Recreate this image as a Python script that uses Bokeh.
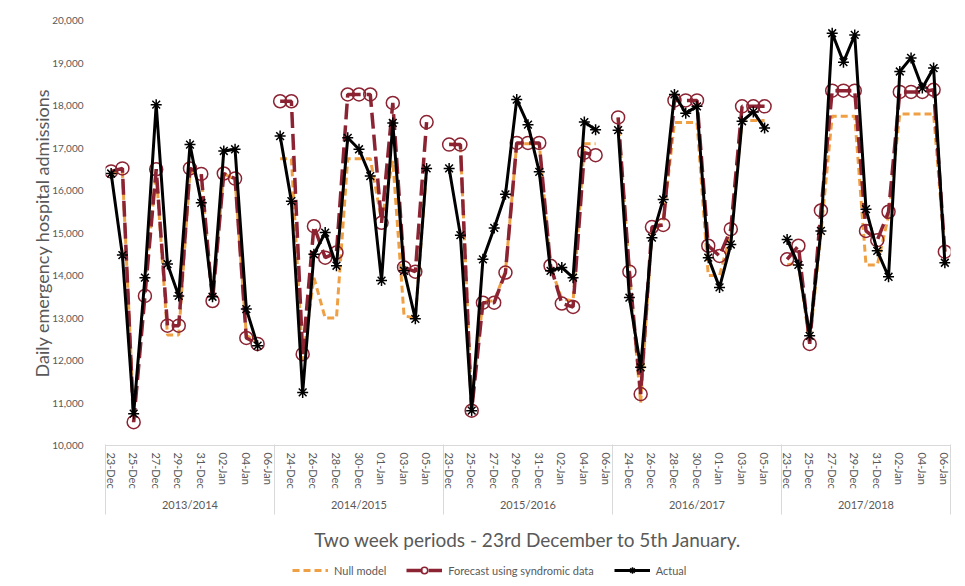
import numpy as np
from bokeh.plotting import figure
from bokeh.layouts import column
from bokeh.models import (Range1d, LinearAxis, FixedTicker, Legend, LegendItem,
                          NumeralTickFormatter)
from bokeh.embed import file_html
from bokeh.resources import INLINE

# ---------------- data ----------------
seasons = ["2013/2014", "2014/2015", "2015/2016", "2016/2017", "2017/2018"]
days = ["23-Dec", "24-Dec", "25-Dec", "26-Dec", "27-Dec", "28-Dec", "29-Dec", "30-Dec",
        "31-Dec", "01-Jan", "02-Jan", "03-Jan", "04-Jan", "05-Jan", "06-Jan"]

null_model = [
    16400, 16450, 10750, 13700, 16450, 12600, 12600, 16450, 16350, 13450, 16400, 16250, 12600, 12400, None,
    16750, 16750, 12000, 13950, 13000, 13000, 16750, 16750, 16750, 15300, 16700, 13050, 13000, 16500, None,
    17100, 17050, 11000, 13400, 13400, 14100, 17100, 17100, 17100, 14200, 13450, 13400, 17100, 17100, None,
    17700, 14100, 11000, 15000, 15300, 17600, 17600, 17600, 14000, 14000, 15000, 17650, 17650, 17650, None,
    14250, 14300, 12400, 15000, 17750, 17750, 17750, 14250, 14250, 15400, 17800, 17800, 17800, 17800, 14550,
]
forecast = [
    16450, 16520, 10550, 13520, 16500, 12820, 12820, 16520, 16390, 13400, 16400, 16280, 12530, 12390, None,
    18100, 18100, 12150, 15160, 14420, 14540, 18260, 18260, 18260, 15240, 18060, 14190, 14090, 17610, None,
    17080, 17080, 10820, 13360, 13360, 14070, 17120, 17120, 17120, 14230, 13340, 13260, 16890, 16830, None,
    17720, 14090, 11210, 15140, 15190, 18120, 18120, 18120, 14700, 14460, 15090, 17980, 17980, 17980, None,
    14380, 14700, 12390, 15530, 18350, 18350, 18350, 15050, 14830, 15500, 18320, 18320, 18320, 18370, 14560,
]
actual = [
    16400, 14480, 10750, 13950, 18020, 14270, 13520, 17080, 15710, 13500, 16930, 16970, 13210, 12350, None,
    17280, 15750, 11250, 14500, 15010, 14230, 17240, 16970, 16340, 13880, 17590, 14110, 12980, 16520, None,
    16520, 14950, 10820, 14380, 15120, 15910, 18140, 17550, 16440, 14110, 14190, 13950, 17610, 17430, None,
    17420, 13480, 11840, 14890, 15790, 18260, 17820, 17980, 14420, 13720, 14730, 17630, 17850, 17470, None,
    14850, 14250, 12580, 15050, 19700, 19020, 19660, 15560, 14580, 13970, 18800, 19120, 18410, 18880, 14300,
]
series_names = ["Null model", "Forecast using syndromic data", "Actual"]

# ---------------- helpers ----------------
def arr(v):
    return np.array([np.nan if a is None else a for a in v], dtype=float)

n_days = len(days)
n_all = n_days * len(seasons)
x = np.arange(n_all)

FONT = "Lato"
GREY = "#595959"
LIGHT = "#d9d9d9"
ORANGE = "#F0A044"
DARKRED = "#8B2332"

NULL_STYLE = dict(line_color=ORANGE, line_width=3, line_dash="7 4")
FC_LINE = dict(line_color=DARKRED, line_width=3.5, line_dash="16 6")
FC_MARK = dict(marker="circle", size=13, fill_color=None, line_color=DARKRED, line_width=1.5)
AC_LINE = dict(line_color="black", line_width=3)
AC_MARK = dict(marker="asterisk", size=11, line_color="black", line_width=1.5)

p = figure(width=960, height=554,
           x_range=Range1d(-0.5, n_all - 0.5), y_range=Range1d(10000, 20000),
           output_backend="svg", toolbar_location=None, x_axis_location=None,
           min_border_left=105, min_border_right=10, min_border_top=20, min_border_bottom=109)
p.outline_line_color = None
p.grid.visible = False
p.background_fill_color = "white"
p.border_fill_color = "white"

# y axis
ya = p.yaxis[0]
ya.ticker = FixedTicker(ticks=list(range(10000, 20001, 1000)))
ya.formatter = NumeralTickFormatter(format="0,0")
ya.axis_line_color = None
ya.major_tick_line_color = None
ya.minor_tick_line_color = None
ya.major_tick_out = 0
ya.major_label_standoff = 22
ya.major_label_text_font = FONT
ya.major_label_text_font_size = "10px"
ya.major_label_text_color = GREY
ya.axis_label = "Daily emergency hospital admissions"
ya.axis_label_text_font = FONT
ya.axis_label_text_font_size = "18px"
ya.axis_label_text_font_style = "normal"
ya.axis_label_text_color = GREY
ya.axis_label_standoff = -4

# date axis (inner level)
tick_pos = [int(i) for i in x if i % 2 == 0]
sep_pos = [k * n_days - 0.5 for k in range(len(seasons) + 1)]
ax1 = LinearAxis(
    ticker=FixedTicker(ticks=tick_pos),
    major_label_overrides={i: days[i % n_days] for i in tick_pos},
    major_label_orientation="vertical",
    major_tick_line_color=None, major_tick_out=0, major_tick_in=0,
    minor_tick_line_color=None, minor_tick_out=0, minor_tick_in=0,
    axis_line_color=LIGHT, axis_line_width=1,
    major_label_standoff=7,
    major_label_text_font=FONT, major_label_text_font_size="11px", major_label_text_color=GREY,
)
p.add_layout(ax1, "below")

# season axis (outer level) with group separators and the axis title
centers = [k * n_days + (n_days - 1) / 2 for k in range(len(seasons))]
ax2 = LinearAxis(
    ticker=FixedTicker(ticks=centers, minor_ticks=sep_pos),
    major_label_overrides={c: s for c, s in zip(centers, seasons)},
    axis_line_color=None, major_tick_line_color=None,
    major_tick_out=0, major_tick_in=0,
    minor_tick_line_color=LIGHT, minor_tick_line_width=1, minor_tick_in=47, minor_tick_out=23,
    major_label_standoff=-17,
    major_label_text_font=FONT, major_label_text_font_size="11px", major_label_text_color=GREY,
    axis_label="Two week periods - 23rd December to 5th January.",
    axis_label_text_font=FONT, axis_label_text_font_size="19px",
    axis_label_text_font_style="normal", axis_label_text_color=GREY,
    axis_label_standoff=14,
)
p.add_layout(ax2, "below")

# series
p.line(x, arr(null_model), **NULL_STYLE)
p.line(x, arr(forecast), **FC_LINE)
p.scatter(x, arr(forecast), **FC_MARK)
p.line(x, arr(actual), **AC_LINE)
p.scatter(x, arr(actual), **AC_MARK)

# ---------------- legend strip (same series, out of its view; only the legend shows) ----------------
lg = figure(width=960, height=32, x_range=Range1d(-0.5, n_all - 0.5), y_range=Range1d(0, 1),
            output_backend="svg", toolbar_location=None,
            x_axis_location=None, y_axis_location=None,
            min_border_left=105, min_border_right=10, min_border_top=0, min_border_bottom=0)
lg.outline_line_color = None
lg.grid.visible = False
lg.background_fill_color = "white"
lg.border_fill_color = "white"
k_null = lg.line(x, arr(null_model), **NULL_STYLE)
k_fl = lg.line(x, arr(forecast), **FC_LINE)
k_fm = lg.scatter(x, arr(forecast), **FC_MARK)
k_al = lg.line(x, arr(actual), **AC_LINE)
k_am = lg.scatter(x, arr(actual), **AC_MARK)

legend = Legend(items=[
    LegendItem(label=series_names[0], renderers=[k_null]),
    LegendItem(label=series_names[1], renderers=[k_fl, k_fm]),
    LegendItem(label=series_names[2], renderers=[k_al, k_am]),
], orientation="horizontal", location=(187, 8),
    border_line_color=None, background_fill_alpha=0,
    label_text_font=FONT, label_text_font_size="11px", label_text_color=GREY,
    glyph_width=36, glyph_height=16, spacing=20, label_standoff=6, padding=0, margin=0)
lg.add_layout(legend, "center")

layout = column(p, lg, spacing=0)
open("out.html", "w").write(file_html(layout, INLINE))
